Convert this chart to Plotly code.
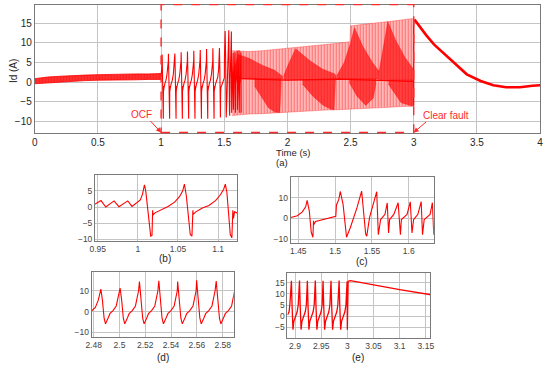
import plotly.graph_objects as go

W, H = 550, 368

# ------------------------------------------------------------------ data
# panel (a) – ripple before the fault (envelope of the dense ripple)
pre_t  = [0.0, 0.05, 0.1, 0.2, 0.3, 0.4, 0.5, 0.6, 0.7, 0.8, 0.9, 1.0]
pre_lo = [-0.4, -0.3, -0.1, 0.1, 0.3, 0.4, 0.5, 0.5, 0.6, 0.6, 0.7, 0.7]
pre_hi = [0.9, 1.1, 1.3, 1.5, 1.7, 1.8, 1.9, 2.0, 2.0, 2.1, 2.1, 2.2]

# one OCF period: time after the positive peak, value (None = peak)
ocf_dt = [0.0, 0.0024, 0.0049, 0.0073, 0.0094, 0.0106, 0.0110, 0.0142, 0.0224, 0.0306, 0.0388, 0.0449, 0.0490]
ocf_v  = [None, 3.5, -3.0, -8.5, -9.3, -1.0, -2.3, -1.5, -0.3, 0.5, 2.0, 3.8, 5.5]
ocf_peak_t = [1.0082, 1.0582, 1.1090, 1.1590, 1.2090, 1.2590, 1.3100, 1.3600, 1.4100]
ocf_peak_v = [7.0, 7.2, 7.3, 7.6, 7.8, 8.0, 8.2, 8.4, 8.6]
ocf_lead_t = [1.0, 1.003, 1.0058]
ocf_lead_v = [1.5, 2.2, 4.0]

# panel (a) – dense oscillation band 1.56 s .. 3 s
band_t  = [1.56, 1.634, 1.7, 1.8, 1.9, 2.0, 2.1, 2.2, 2.3, 2.4, 2.495, 2.5, 2.6, 2.7, 2.8, 2.9, 2.998]
band_hi = [8.0, 7.8, 7.8, 8.0, 8.3, 8.6, 8.9, 9.2, 9.6, 9.9, 10.3, 14.3, 14.7, 15.0, 15.4, 15.8, 16.2]
band_lo = [-8.5, -8.2, -8.1, -8.0, -7.8, -7.6, -7.4, -7.3, -7.1, -7.0, -6.9, -6.8, -6.7, -6.5, -6.4, -6.2, -6.1]

# darker (beating) lobes inside the band
dark_upper_t = [
    [1.56, 1.59, 1.61, 1.65, 1.70, 1.80, 1.90, 1.96],
    [1.97, 2.00, 2.065, 2.12, 2.18, 2.28, 2.375, 2.385],
    [2.39, 2.45, 2.50, 2.531, 2.595, 2.673, 2.725, 2.735],
    [2.725, 2.76, 2.795, 2.855, 2.932, 2.998],
]
dark_upper_v = [
    [1.0, 5.0, 7.0, 6.6, 6.0, 4.3, 3.0, 1.5],
    [1.5, 4.0, 8.5, 7.0, 5.4, 3.3, 2.1, 1.5],
    [1.6, 5.0, 10.0, 13.8, 9.2, 5.0, 2.8, 1.5],
    [2.5, 9.0, 15.4, 10.8, 6.2, 3.3],
]
dark_lower_t = [
    [1.74, 1.80, 1.85, 1.90, 1.94, 1.95],
    [2.12, 2.20, 2.28, 2.34, 2.37, 2.38],
    [2.49, 2.55, 2.62, 2.68, 2.70],
    [2.80, 2.85, 2.90, 2.98, 2.998],
]
dark_lower_v = [
    [-1.0, -4.0, -6.5, -7.6, -7.7, -0.5],
    [-0.5, -3.5, -5.8, -6.8, -7.0, -0.5],
    [-0.1, -3.5, -5.9, -4.0, -0.5],
    [-0.5, -3.0, -5.2, -6.0, -6.0],
]
dark_base = [0.8, 0.6, 0.8, 0.6]
centre_t = [1.56, 2.0, 2.4, 3.0]
centre_v = [1.0, 0.5, 0.8, 0.2]

# panel (b)
b_t = [0.9458, 0.9540, 0.9600, 0.9703, 0.9764, 0.9874, 0.9927, 1.0000, 1.0030, 1.0058, 1.0082,
       1.0098, 1.0122, 1.0147, 1.0160, 1.0176, 1.0184, 1.0188, 1.0213, 1.0294, 1.0376, 1.0458,
       1.0519, 1.0559, 1.0580, 1.0604, 1.0629, 1.0653, 1.0674, 1.0686, 1.0690, 1.0722, 1.0804,
       1.0886, 1.0968, 1.1029, 1.1070, 1.1090, 1.1110, 1.1131, 1.1152, 1.1172, 1.1184, 1.1192,
       1.1205, 1.1233, 1.1245]
b_v = [0.8, 2.0, 0.0, 1.9, 0.1, 1.9, 0.2, 1.5, 2.2, 4.0, 6.9,
       5.0, -1.0, -8.0, -9.0, -8.8, -1.0, -2.5, -1.8, -0.8, 0.2, 1.5,
       3.2, 5.0, 7.1, 3.5, -3.0, -8.5, -9.0, -1.0, -2.3, -1.5, -0.3,
       0.5, 2.0, 3.8, 5.5, 7.1, 4.5, -2.0, -8.5, -9.5, -1.0, -3.5,
       -1.5, -1.8, -1.5]

# panel (c)
c_t = [1.4396, 1.4487, 1.4554, 1.4600, 1.4620, 1.4649, 1.4676, 1.4698, 1.4707, 1.4710, 1.4734,
       1.4847, 1.5009, 1.5018, 1.5050, 1.5070, 1.5108, 1.5155, 1.5207, 1.5297, 1.5360, 1.5415,
       1.5430, 1.5468, 1.5514, 1.5565, 1.5587, 1.5618, 1.5677, 1.5708, 1.5726, 1.5740, 1.5797,
       1.5856, 1.5887, 1.5900, 1.5977, 1.6021, 1.6044, 1.6066, 1.6124, 1.6169, 1.6187, 1.6210,
       1.6290, 1.6321, 1.6340]
c_v = [0.5, 1.3, 3.2, 5.6, 8.7, 3.7, -6.7, -9.0, -1.1, -3.0, -1.4,
       -0.3, 1.1, 6.5, 9.2, 13.0, 6.8, -9.0, -4.3, 5.2, 13.2, -7.5,
       -8.5, 0.5, 6.5, 12.9, -7.8, -0.5, 2.0, 7.5, -7.0, -0.5, 2.0,
       7.6, -7.8, -0.5, 2.0, 8.0, -7.0, -0.5, 2.0, 8.1, -7.8, -0.5,
       2.0, 7.6, -7.8]

# panel (d): one period (time after peak, value; None = peak) and the peaks
d_dt = [0.0, 0.0012, 0.0025, 0.0036, 0.0046, 0.0058, 0.0070, 0.0094, 0.0119, 0.0136, 0.0143]
d_v  = [None, 5.5, -3.2, -5.9, -4.0, -2.8, -1.0, 0.5, 2.7, 7.0, 10.0]
d_peak_t = [2.4856, 2.5005, 2.5155, 2.5305, 2.5451, 2.5598, 2.5750]
d_peak_v = [10.8, 11.3, 14.4, 14.8, 14.4, 15.0, 14.6]
d_lead_t = [2.4785, 2.4813, 2.4836, 2.4849]
d_lead_v = [0.3, 2.0, 5.5, 8.7]
d_tail_t = [2.5893]
d_tail_v = [11.8]

# panel (e)
e_dt = [0.0, 0.0012, 0.0030, 0.0045, 0.0080, 0.0110, 0.0130, 0.0145]
e_v  = [None, 5.0, -6.0, -2.4, 0.0, 2.0, 5.0, 10.0]
e_peak_t = [2.8931, 2.9086, 2.9236, 2.9388, 2.9536, 2.9688, 2.9843]
e_peak_v = [15.8, 15.9, 15.8, 15.9, 15.8, 15.8, 15.9]
e_lead_t = [2.8856, 2.8886, 2.8901, 2.8916]
e_lead_v = [0.6, 2.0, 5.0, 10.0]
clear_t = [2.9995, 3.0000, 3.0015, 3.0060]
clear_v = [15.5, -6.0, 15.6, 15.9]

# after the fault is cleared
post_t = [3.006, 3.05, 3.10, 3.16, 3.25, 3.33, 3.42, 3.53, 3.63, 3.73, 3.84, 3.94, 4.0]
post_v = [15.9, 13.9, 11.9, 9.6, 6.9, 4.5, 2.0, 0.3, -0.8, -1.3, -1.3, -0.9, -0.8]

# tick labels
a_xticks = [0, 0.5, 1, 1.5, 2, 2.5, 3, 3.5, 4]
a_yticks = [-10, -5, 0, 5, 10, 15]
b_xticks = [0.95, 1.0, 1.05, 1.1]
b_yticks = [-10, -5, 0, 5]
c_xticks = [1.45, 1.5, 1.55, 1.6]
c_yticks = [-10, 0, 10]
d_xticks = [2.48, 2.50, 2.52, 2.54, 2.56, 2.58]
d_xlabels = ["2.48", "2.5", "2.52", "2.54", "2.56", "2.58"]
d_yticks = [-10, 0, 10]
e_xticks = [2.9, 2.95, 3.0, 3.05, 3.1, 3.15]
e_xlabels = ["2.9", "2.95", "3", "3.05", "3.1", "3.15"]
e_yticks = [-5, 0, 5, 10, 15]


# ------------------------------------------------------------------ helpers
def periods(peak_t, peak_v, dt, vals):
    ts, vs = [], []
    for pt, pv in zip(peak_t, peak_v):
        for d, v in zip(dt, vals):
            ts.append(pt + d)
            vs.append(pv if v is None else v)
    return ts, vs


def px_x(x):
    return x / W


def px_y(y):
    return 1 - y / H


RED = "#ff0000"
FONT = "Liberation Sans, Arial, sans-serif"

fig = go.Figure()

# ---- main panel (a)
fig.add_trace(go.Scatter(x=pre_t, y=pre_lo, mode="lines", line=dict(color=RED, width=0.8),
                         xaxis="x", yaxis="y", hoverinfo="skip"))
fig.add_trace(go.Scatter(x=pre_t, y=pre_hi, mode="lines", line=dict(color=RED, width=0.8),
                         fill="tonexty",
                         fillpattern=dict(shape="|", fgcolor="#ff0000", bgcolor="#ff3a3a",
                                          size=3, solidity=0.55),
                         xaxis="x", yaxis="y", hoverinfo="skip"))

# light band
fig.add_trace(go.Scatter(x=band_t, y=band_lo, mode="lines", line=dict(color="rgba(255,0,0,0.5)", width=0.6),
                         xaxis="x", yaxis="y", hoverinfo="skip"))
fig.add_trace(go.Scatter(x=band_t, y=band_hi, mode="lines", line=dict(color="rgba(255,0,0,0.5)", width=0.6),
                         fill="tonexty",
                         fillpattern=dict(shape="|", fgcolor="#ff2020", bgcolor="#ffc4c4",
                                          size=3, solidity=0.45),
                         xaxis="x", yaxis="y", hoverinfo="skip"))

# darker lobes
for lt, lv, base in zip(dark_upper_t, dark_upper_v, dark_base):
    fig.add_trace(go.Scatter(x=lt + [lt[-1], lt[0]], y=lv + [base, base], mode="lines",
                             line=dict(color="rgba(255,0,0,0.6)", width=0.6), fill="toself",
                             fillpattern=dict(shape="|", fgcolor="#ff0000", bgcolor="#ff5050",
                                              size=3, solidity=0.6),
                             xaxis="x", yaxis="y", hoverinfo="skip"))
for lt, lv, base in zip(dark_lower_t, dark_lower_v, dark_base):
    fig.add_trace(go.Scatter(x=lt + [lt[-1], lt[0]], y=lv + [base, base], mode="lines",
                             line=dict(color="rgba(255,0,0,0.6)", width=0.6), fill="toself",
                             fillpattern=dict(shape="|", fgcolor="#ff0000", bgcolor="#ff5050",
                                              size=3, solidity=0.6),
                             xaxis="x", yaxis="y", hoverinfo="skip"))
fig.add_trace(go.Scatter(x=centre_t, y=centre_v, mode="lines", line=dict(color=RED, width=1.2),
                         xaxis="x", yaxis="y", hoverinfo="skip"))

# OCF spikes 1 .. 1.634 s
ot, ov = periods(ocf_peak_t, ocf_peak_v, ocf_dt, ocf_v)
keep = [(t, v) for t, v in zip(ot, ov) if t < c_t[0]]
spike_t = ocf_lead_t + [k[0] for k in keep] + c_t
spike_v = ocf_lead_v + [k[1] for k in keep] + c_v
fig.add_trace(go.Scatter(x=spike_t, y=spike_v, mode="lines", line=dict(color=RED, width=1.1),
                         xaxis="x", yaxis="y", hoverinfo="skip"))
# clearing + decay
fig.add_trace(go.Scatter(x=clear_t, y=clear_v, mode="lines", line=dict(color=RED, width=1.2),
                         xaxis="x", yaxis="y", hoverinfo="skip"))
fig.add_trace(go.Scatter(x=post_t, y=post_v, mode="lines", line=dict(color=RED, width=2.6),
                         xaxis="x", yaxis="y", hoverinfo="skip"))

# ---- panel (b)
fig.add_trace(go.Scatter(x=b_t, y=b_v, mode="lines", line=dict(color=RED, width=1.1),
                         xaxis="x2", yaxis="y2", hoverinfo="skip"))
# ---- panel (c)
fig.add_trace(go.Scatter(x=c_t, y=c_v, mode="lines", line=dict(color=RED, width=1.1),
                         xaxis="x3", yaxis="y3", hoverinfo="skip"))
# ---- panel (d)
dt_, dv_ = periods(d_peak_t, d_peak_v, d_dt, d_v)
fig.add_trace(go.Scatter(x=d_lead_t + dt_ + d_tail_t, y=d_lead_v + dv_ + d_tail_v, mode="lines",
                         line=dict(color=RED, width=1.1), xaxis="x4", yaxis="y4", hoverinfo="skip"))
# ---- panel (e)
et_, ev_ = periods(e_peak_t, e_peak_v, e_dt, e_v)
fig.add_trace(go.Scatter(x=e_lead_t + et_ + clear_t + post_t, y=e_lead_v + ev_ + clear_v + post_v,
                         mode="lines", line=dict(color=RED, width=1.3),
                         xaxis="x5", yaxis="y5", hoverinfo="skip"))

# ------------------------------------------------------------------ axes
GRID = "#c4c4c4"
FRAME = "#7a7a7a"


def ax(dom, rng, tickvals, ticktext=None, size=10, color="#262626", **kw):
    d = dict(domain=dom, range=rng, tickvals=tickvals, showgrid=True, gridcolor=GRID, gridwidth=1,
             showline=True, linecolor=FRAME, linewidth=1, mirror=True, zeroline=False, ticks="",
             tickfont=dict(family=FONT, size=size, color=color), fixedrange=True)
    if ticktext is not None:
        d["ticktext"] = ticktext
    d.update(kw)
    return d


layout = dict(
    width=W, height=H, margin=dict(l=0, r=0, t=0, b=0),
    paper_bgcolor="white", plot_bgcolor="white", showlegend=False,
    font=dict(family=FONT),
    xaxis=ax([px_x(29.3), px_x(544)], [0, 4.0005], a_xticks, [str(v) for v in a_xticks], anchor="y"),
    yaxis=ax([px_y(134), px_y(4.7)], [-12.8, 19.7], a_yticks, anchor="x"),
    xaxis2=ax([px_x(90.7), px_x(235.7)], [0.9466, 1.1241], b_xticks, ["0.95", "1", "1.05", "1.1"],
              size=8.5, color="#444", anchor="y2"),
    yaxis2=ax([px_y(243.3), px_y(177.3)], [-10.4, 9.8], b_yticks, size=8.5, color="#444", anchor="x2"),
    xaxis3=ax([px_x(290), px_x(435.7)], [1.4397, 1.634], c_xticks, ["1.45", "1.5", "1.55", "1.6"],
              size=8.5, color="#444", anchor="y3"),
    yaxis3=ax([px_y(245.7), px_y(179.3)], [-11.8, 19.8], c_yticks, size=8.5, color="#444", anchor="x3"),
    xaxis4=ax([px_x(87.3), px_x(232)], [2.4785, 2.5886], d_xticks, d_xlabels,
              size=8.5, color="#444", anchor="y4"),
    yaxis4=ax([px_y(340.7), px_y(275)], [-12.2, 19.0], d_yticks, size=8.5, color="#444", anchor="x4"),
    xaxis5=ax([px_x(286.7), px_x(432.3)], [2.8856, 3.1588], e_xticks, e_xlabels,
              size=8.5, color="#444", anchor="y5"),
    yaxis5=ax([px_y(341.7), px_y(276)], [-9.7, 19.3], e_yticks, size=8.5, color="#444", anchor="x5"),
)
fig.update_layout(**layout)

# dashed fault window
fig.add_shape(type="rect", xref="x", yref="y domain", x0=1, x1=3, y0=0, y1=1,
              line=dict(color="#ff2a2a", width=1.4, dash="dash"), layer="above")

ann = []


def txt(x, y, s, size=10, color="#262626", xanchor="center", angle=0):
    ann.append(dict(x=px_x(x), y=px_y(y), xref="paper", yref="paper", text=s, showarrow=False,
                    xanchor=xanchor, yanchor="middle", textangle=angle,
                    font=dict(family=FONT, size=size, color=color)))


txt(7, 72, "Id (A)", angle=-90)
txt(273, 154.5, "Time (s)", size=9.5, xanchor="left")
txt(273, 164, "(a)", size=9.5, xanchor="left")
txt(137.5, 116, "OCF", color="#ff2a2a")
txt(448.5, 117, "Clear fault", color="#ff2a2a")
txt(162, 261, "(b)")
txt(363, 264, "(c)")
txt(160, 361.5, "(d)")
txt(359, 361, "(e)")

ann.append(dict(x=1, y=-12.8, xref="x", yref="y", ax=-12, ay=-13, text="", showarrow=True,
                arrowhead=2, arrowsize=1, arrowwidth=1, arrowcolor="#ff2a2a"))
ann.append(dict(x=3, y=-12.8, xref="x", yref="y", ax=14, ay=-12, text="", showarrow=True,
                arrowhead=2, arrowsize=1, arrowwidth=1, arrowcolor="#ff2a2a"))
fig.update_layout(annotations=ann)

fig.write_html("out.html", config={"displayModeBar": False},
               post_script="document.body.style.margin='0';document.body.style.overflow='hidden';")
